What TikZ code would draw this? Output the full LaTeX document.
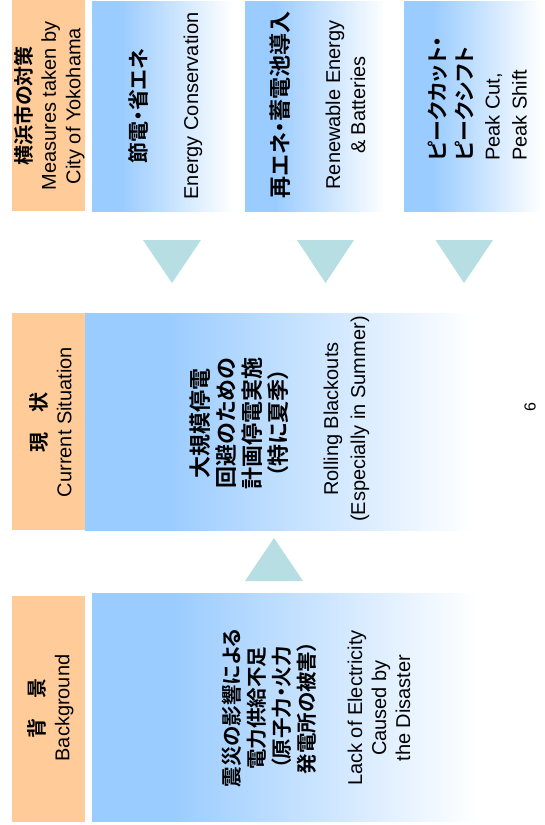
\documentclass[tikz,border=0pt]{standalone}
\usepackage{fontspec}
\setmainfont{Liberation Sans}
\newfontfamily\jpb{Noto Sans CJK JP}[UprightFont=* Bold, RawFeature=+palt]
\definecolor{boxblue}{RGB}{155,204,255}
\definecolor{hdrorange}{RGB}{255,204,153}
\definecolor{arrowteal}{RGB}{183,222,226}
\pgfdeclarehorizontalshading{bluefade}{100bp}{color(0bp)=(boxblue); color(35bp)=(boxblue); color(72bp)=(white); color(100bp)=(white)}
\begin{document}
\begin{tikzpicture}[x=1pt,y=-1pt,
  hdr/.style={fill=hdrorange, draw=none},
  fadebox/.style={shade, shading=bluefade},
  arrowtri/.style={fill=arrowteal, draw=none},
  vtext/.style={rotate=90, inner sep=0pt, align=center, text=black}]
\useasboundingbox[fill=white] (0,0) rectangle (544,825);
% top row: measures
\path[hdr] (12,0) rectangle (85,211);
\path[fadebox] (92,1) rectangle (242,211);
\path[fadebox] (245,1) rectangle (395,211);
\path[fadebox] (404,1) rectangle (550,211);
% arrows down
\path[arrowtri] (143,240) -- (201,240) -- (172,283) -- cycle;
\path[arrowtri] (297,240) -- (354,240) -- (325.5,283) -- cycle;
\path[arrowtri] (435.5,240) -- (493,240) -- (464,283) -- cycle;
% current situation row
\path[fadebox] (85,313) rectangle (498,530);
\path[hdr] (12,313) rectangle (85,530);
% arrow up
\path[arrowtri] (245,581) -- (303,581) -- (274,538) -- cycle;
% background row
\path[hdr] (12,596) rectangle (85,822);
\path[fadebox] (92,593) rectangle (502,821);
% texts top row
\node[vtext, font=\fontsize{20}{24.5}\selectfont] (hdrA) at (49.5,106) {{\jpb 横浜市の対策}\\Measures taken by\\City of Yokohama};
\node[vtext, font=\jpb\fontsize{21}{25}\selectfont] (m1jp) at (138,106) {節電・省エネ};
\node[vtext, font=\fontsize{20}{24}\selectfont] (m1en) at (193,106) {Energy Conservation};
\node[vtext, font=\jpb\fontsize{22}{25}\selectfont] (m2jp) at (280,105) {再エネ・蓄電池導入};
\node[vtext, font=\fontsize{20}{25}\selectfont] (m2en) at (345.5,105) {Renewable Energy\\\& Batteries};
\node[vtext, align=left, anchor=west, font=\fontsize{20}{27}\selectfont] (m3) at (477.5,161) {{\jpb\fontsize{21}{27}\selectfont ピークカット・}\\{\jpb\fontsize{21}{27}\selectfont ピークシフト}\\Peak Cut,\\Peak Shift};
% texts current
\node[vtext, font=\fontsize{20}{25}\selectfont] (curH) at (50.5,422) {{\jpb 現　状}\\Current Situation};
\node[vtext, font=\jpb\fontsize{22}{26}\selectfont] (curJ) at (239,423) {大規模停電\\回避のための\\計画停電実施\\（特に夏季）};
\node[vtext, font=\fontsize{20}{27}\selectfont] (curE) at (346.5,419) {Rolling Blackouts\\(Especially in Summer)};
% texts background
\node[vtext, font=\fontsize{20}{25}\selectfont] (bgH) at (50.5,708) {{\jpb 背　景}\\Background};
\node[vtext, font=\jpb\fontsize{20.5}{25}\selectfont] (bgJ) at (269.5,708) {震災の影響による\\電力供給不足\\（原子力・火力\\発電所の被害）};
\node[vtext, font=\fontsize{20}{24}\selectfont] (bgE) at (379,708) {Lack of Electricity\\Caused by\\the Disaster};
% page number
\node[vtext, font=\fontsize{16}{18}\selectfont] (pg) at (530,407) {6};
\end{tikzpicture}
\end{document}
